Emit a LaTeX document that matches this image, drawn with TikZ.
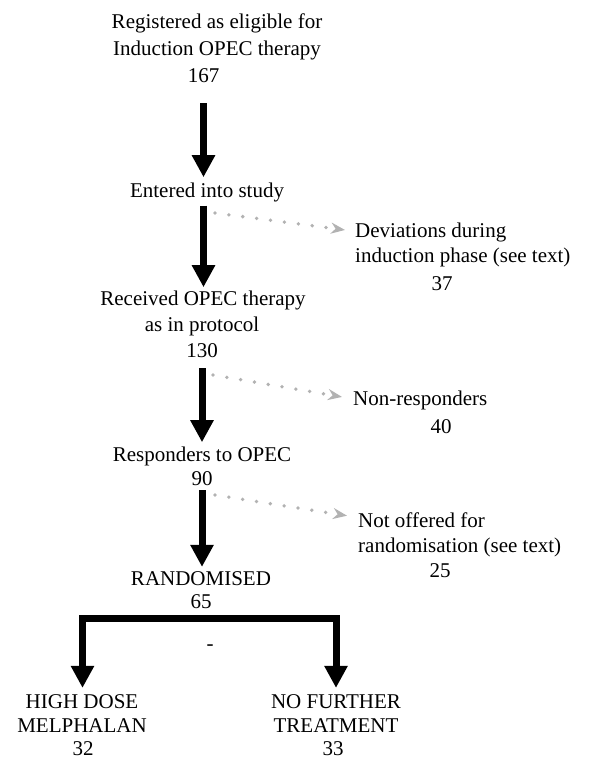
\documentclass[tikz,border=0pt]{standalone}
\usepackage{fontspec}
\setmainfont{Liberation Serif}
\usetikzlibrary{arrows.meta,calc}
\begin{document}
\begin{tikzpicture}[x=1pt,y=-1pt,
  txt/.style={font=\fontsize{21}{26}\selectfont, inner sep=0pt, anchor=base},
  sidetxt/.style={txt, anchor=base west},
  bigarrow/.style={line width=7pt, -{Triangle[width=22pt,length=22pt]}},
  bracketarrow/.style={line width=7pt, line join=miter, {Triangle[width=22pt,length=22pt]}-{Triangle[width=22pt,length=22pt]}},
  dotarrow/.style={gray!60, line width=3.8pt, line cap=round, dash pattern=on 0pt off 14pt, -{Stealth[length=14pt,width=11pt]}}
]
\useasboundingbox (0,0) rectangle (595,759);
\fill[white] (0,0) rectangle (595,759);

% main column
\node[txt] (reg1) at (217,29) {Registered as eligible for};
\node[txt] (reg2) at (217,56) {Induction OPEC therapy};
\node[txt] (n167) at (203.5,83) {167};
\node[txt] (entered) at (207,198) {Entered into study};
\node[txt] (rec1) at (203,305) {Received OPEC therapy};
\node[txt] (rec2) at (202,331) {as in protocol};
\node[txt] (n130) at (202,357) {130};
\node[txt] (resp) at (202,461) {Responders to OPEC};
\node[txt] (n90) at (202,485) {90};
\node[txt] (rand) at (201,585) {RANDOMISED};
\node[txt] (n65) at (201,608) {65};
\node[txt] (dash) at (210,650) {-};

% side texts
\node[sidetxt] (dev1) at (355,237) {Deviations during};
\node[sidetxt] (dev2) at (355,262) {induction phase (see text)};
\node[txt] (n37) at (442,290) {37};
\node[sidetxt] (non1) at (353,405) {Non-responders};
\node[txt] (n40) at (441,433) {40};
\node[sidetxt] (not1) at (358,527) {Not offered for};
\node[sidetxt] (not2) at (358,552) {randomisation (see text)};
\node[txt] (n25) at (440,577) {25};

% bottom
\node[txt] (hd1) at (82,708) {HIGH DOSE};
\node[txt] (hd2) at (82,732) {MELPHALAN};
\node[txt] (n32) at (83,755) {32};
\node[txt] (nf1) at (336,708) {NO FURTHER};
\node[txt] (nf2) at (336,732) {TREATMENT};
\node[txt] (n33) at (333,755) {33};

% thick arrows
\draw[bigarrow] ($(n167.south)+(0,20)$) -- ($(n167.south |- entered.north)+(0,-6)$);
\draw[bigarrow] ($(n167.south |- entered.south)+(0,3)$) -- ($(n167.south |- rec1.north)+(0,-3)$);
\draw[bigarrow] ($(n130.south)+(0,11)$) -- ($(n130.south |- resp.north)+(0,-4)$);
\draw[bigarrow] ($(n90.south)+(0,5)$) -- ($(n90.south |- rand.north)+(0,-4)$);

% bracket
\coordinate (split) at ($(n65.south)+(0,10.5)$);
\draw[bracketarrow] ($(hd1.north)+(0.5,-6)$) |- (split) -| ($(nf1.north)+(0,-6)$);

% dotted side arrows
\draw[dotarrow] (215,213) -- ($(dev1.west)+(-10,-2)$);
\draw[dotarrow] (213,375) -- ($(non1.west)+(-11,-3)$);
\draw[dotarrow] (215,495) -- ($(not1.west)+(-11,-4)$);
\end{tikzpicture}
\end{document}
